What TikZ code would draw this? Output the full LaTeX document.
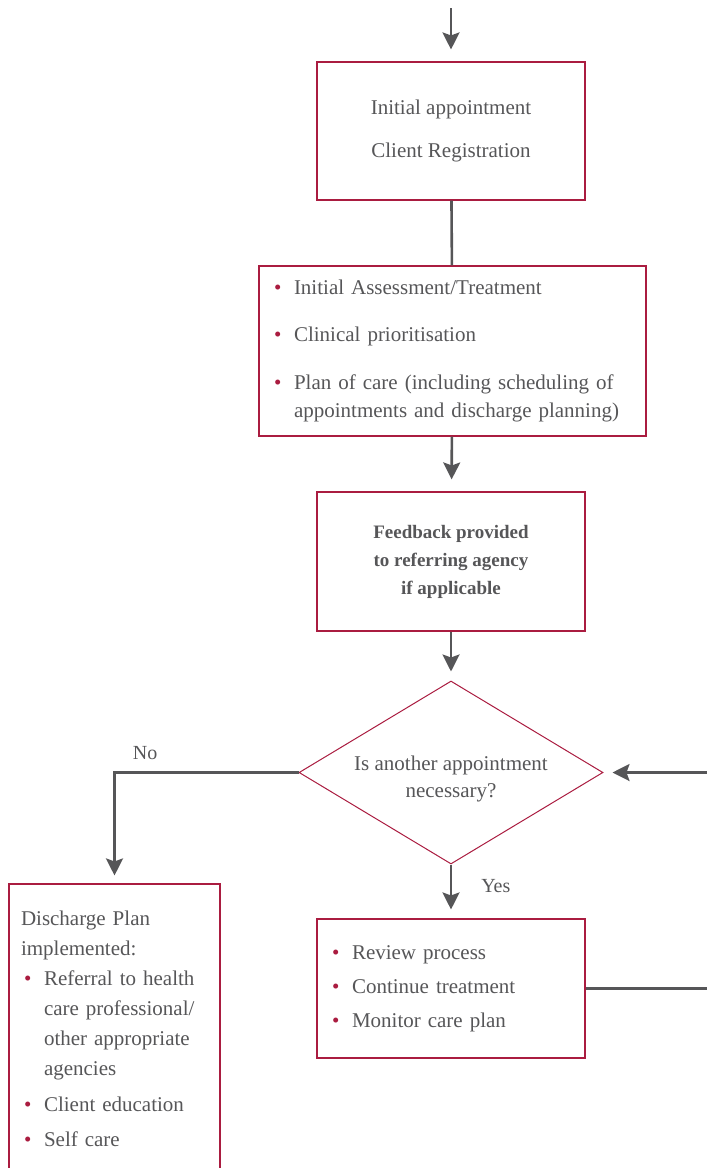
\documentclass[tikz,border=0pt]{standalone}
\usepackage{fontspec}
\setmainfont{Liberation Serif}
\usepackage{tikz}
\usetikzlibrary{arrows.meta,positioning,calc,shapes.geometric}
\usepackage{xcolor}
\definecolor{careberry}{RGB}{170,28,64}
\definecolor{flowgrey}{RGB}{86,86,88}
\newcommand{\redpt}{\makebox[23pt][l]{\hspace{3pt}\textcolor{careberry}{\textbullet}}}
\newcommand{\hangin}{\hspace{23pt}}

\begin{document}
\begin{tikzpicture}[
    x=1pt, y=-1pt,
    box/.style={draw=careberry,line width=1.1pt,inner xsep=12pt,inner ysep=0pt,align=center,text=flowgrey},
    decision/.style={diamond,draw=careberry,line width=1pt,aspect=1.66,minimum width=304pt,minimum height=183pt,inner sep=0pt,align=center,text=flowgrey},
    flow/.style={draw=flowgrey,line width=2.6pt},
    lbl/.style={inner sep=0pt,text=flowgrey,font=\fontsize{20}{24}\selectfont},
    >={Stealth[length=17pt,width=17pt,inset=3pt]}
]
\useasboundingbox (0,0) rectangle (707,1168);

\node[box,minimum width=268pt,minimum height=138pt,font=\fontsize{21}{43}\selectfont] (reg) at (451,131) {Initial appointment\\Client Registration};
\node[box,minimum width=387pt,minimum height=170pt,text width=363pt,align=left,font=\fontsize{21}{28}\selectfont] (assess) at (452.5,351)
  {\redpt Initial Assessment/Treatment\\[19pt]\redpt Clinical prioritisation\\[20pt]\redpt Plan of care (including scheduling of\\\hangin appointments and discharge planning)};
\node[box,minimum width=268pt,minimum height=139pt,font=\fontsize{19}{28}\selectfont\bfseries] (feedback) at (451,561.5) {Feedback provided\\to referring agency\\if applicable};
\node[decision,text height=54pt,font=\fontsize{21}{27}\selectfont] (ask) at (451,772.5) {Is another appointment\\necessary?};
\node[box,minimum width=211pt,minimum height=289pt,text width=187pt,align=left,font=\fontsize{21}{30}\selectfont] (discharge) at (114.5,1028.5)
  {Discharge Plan\\implemented:\\\redpt Referral to health\\\hangin care professional/\\\hangin other appropriate\\\hangin agencies\\[6pt]\redpt Client education\\[5pt]\redpt Self care};
\node[box,minimum width=268pt,minimum height=139pt,text width=244pt,align=left,font=\fontsize{21}{34}\selectfont] (review) at (451,988.5)
  {\redpt Review process\\\redpt Continue treatment\\\redpt Monitor care plan};

\coordinate (entry) at (451,8);
\coordinate (loopback) at (740,988.5);

\draw[flow,->,shorten >=12pt] (entry) -- (reg);
\draw[flow] (reg) -- (assess);
\draw[flow,->,shorten >=12pt] (assess) -- (feedback);
\draw[flow,->,shorten >=9pt] (feedback) -- (ask);
\draw[flow,->,shorten >=8pt] (ask.west) -| (discharge.north) node[lbl,pos=0.417,above=12pt] {No};
\draw[flow,->,shorten >=9pt] (ask.south) -- (review.north) node[lbl,pos=0.4,right=29pt] {Yes};
\draw[flow,->,shorten >=9pt] (review.east) -- (loopback) |- (ask.east);
\end{tikzpicture}
\end{document}
